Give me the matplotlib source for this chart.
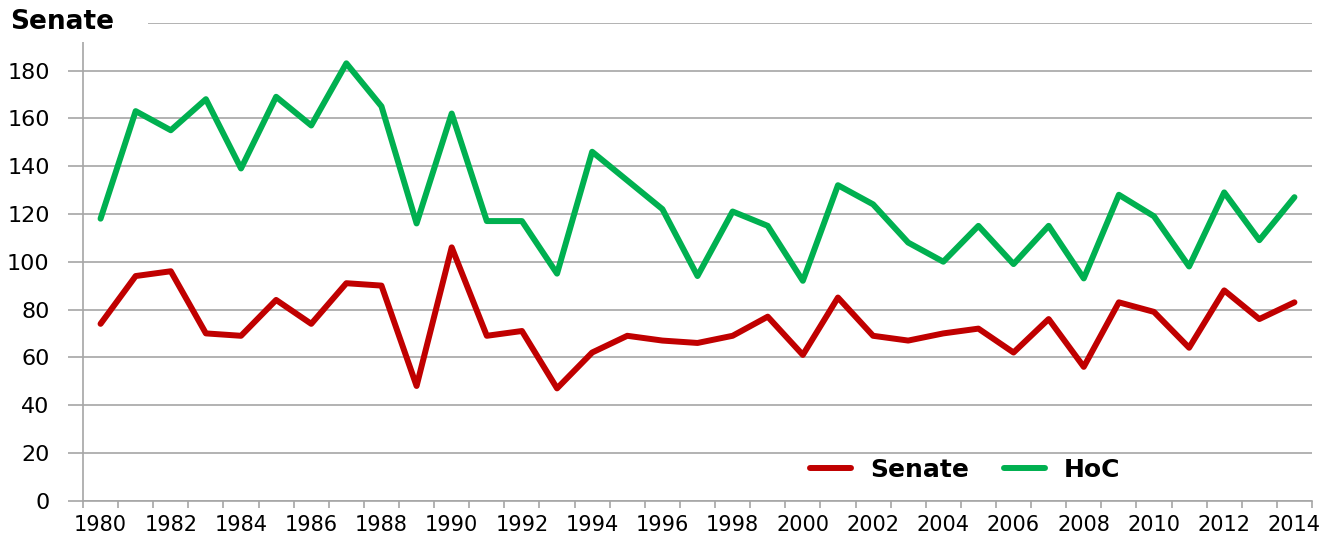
import matplotlib
matplotlib.use("Agg")
import matplotlib.pyplot as plt
from matplotlib.patches import Rectangle

years = list(range(1980, 2015))
senate = [74, 94, 96, 70, 69, 84, 74, 91, 90, 48, 106, 69, 71, 47, 62, 69, 67, 66, 69, 77,
          61, 85, 69, 67, 70, 72, 62, 76, 56, 83, 79, 64, 88, 76, 83]
hoc = [118, 163, 155, 168, 139, 169, 157, 183, 165, 116, 162, 117, 117, 95, 146, 134, 122, 94, 121, 115,
       92, 132, 124, 108, 100, 115, 99, 115, 93, 128, 119, 98, 129, 109, 127]
y_ticks = [0, 20, 40, 60, 80, 100, 120, 140, 160, 180, 200]
y_labels = ["0", "20", "40", "60", "80", "100", "120", "140", "160", "180", ""]

RED = "#C00000"
GREEN = "#00B050"
GRID = "#a6a6a6"

plt.rcParams['font.family'] = ['DejaVu Sans']

W, H = 1337, 538
fig = plt.figure(figsize=(W / 100, H / 100), dpi=100)
ax = fig.add_axes([83 / W, 1 - 500.7 / H, (1312 - 83) / W, (500.7 - 22.7) / H])

x = list(range(len(years)))
ax.plot(x, senate, color=RED, lw=4.3, solid_joinstyle='round', solid_capstyle='round', label="Senate", zorder=3)
ax.plot(x, hoc, color=GREEN, lw=4.3, solid_joinstyle='round', solid_capstyle='round', label="HoC", zorder=3)

ax.set_xlim(-0.5, len(years) - 0.5)
ax.set_ylim(0, 200)

ax.set_yticks(y_ticks)
ax.set_yticklabels(y_labels, fontsize=16)
ax.yaxis.grid(True, color=GRID, lw=1.2)
ax.set_axisbelow(True)
ax.tick_params(axis='y', length=11, width=1.2, color=GRID, pad=13)

bounds = [i - 0.5 for i in range(len(years) + 1)]
ax.set_xticks(bounds)
ax.set_xticklabels([])
ax.tick_params(axis='x', which='major', length=5, width=1.2, color=GRID)
centers = [i for i in x if years[i] % 2 == 0]
ax.set_xticks(centers, minor=True)
ax.set_xticklabels([str(years[i]) for i in centers], minor=True, fontsize=15)
ax.tick_params(axis='x', which='minor', length=0, pad=10)

for s in ['top', 'right']:
    ax.spines[s].set_visible(False)
for s in ['left', 'bottom']:
    ax.spines[s].set_color(GRID)
    ax.spines[s].set_linewidth(1.2)

# white cover behind title
fig.add_artist(Rectangle((0, 1 - 42 / H), 148 / W, 42 / H, transform=fig.transFigure,
                         facecolor='white', edgecolor='none', zorder=5))
fig.text(10 / W, 1 - 22 / H, "Senate", fontsize=19, fontweight='bold', va='center', ha='left', zorder=6)

leg = ax.legend(loc='center left', bbox_to_anchor=(810 / W, 1 - 470 / H), bbox_transform=fig.transFigure,
                ncol=2, frameon=False, prop={'weight': 'bold', 'size': 18},
                handlelength=1.65, handletextpad=0.75, columnspacing=1.4, borderpad=0, borderaxespad=0)

fig.savefig("out.png", dpi=100, facecolor='white')
